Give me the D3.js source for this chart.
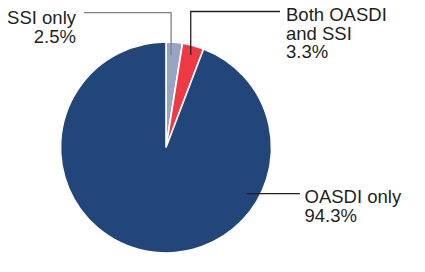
<!DOCTYPE html>
<html>
<head>
<meta charset="utf-8">
<script src="https://cdn.jsdelivr.net/npm/d3@7"></script>
<style>
  body { margin: 0; background: #fff; }
  text { font-family: "Liberation Sans", Arial, sans-serif; font-size: 18.5px; fill: #231f20; }
</style>
</head>
<body>
<div id="chart"></div>
<script>
/* Pie chart: share of beneficiaries by program */

const categories = ["SSI only", "Both OASDI and SSI", "OASDI only"];
const values = [2.5, 3.3, 94.3];
const labels = [["SSI only", "2.5%"], ["Both OASDI", "and SSI", "3.3%"], ["OASDI only", "94.3%"]];
const colors = ["#97a4c4", "#ee3a45", "#22467a"];

const width = 425,
    height = 272,
    cx = 166, cy = 147.5,
    radius = 105.5;

let svg = d3.select("#chart")
    .append("svg")
    .attr("width", width)
    .attr("height", height);

let data = categories.map((c, i) => ({name: c, value: values[i], label: labels[i], color: colors[i]}));

let pie = d3.pie()
    .value(d => d.value)
    .sort(null);

let arc = d3.arc()
    .innerRadius(0)
    .outerRadius(radius);

let arcs = pie(data);

let g = svg.append("g")
    .attr("transform", `translate(${cx},${cy})`);

g.selectAll("path")
    .data(arcs)
    .join("path")
    .attr("d", arc)
    .attr("fill", d => d.data.color)
    .attr("stroke", "#fff")
    .attr("stroke-width", 1.6)
    .attr("stroke-linejoin", "miter");

// leader anchors: angle fraction inside slice (or fixed angle), radius fraction, label placement
const leaders = [
    {t: 0.35, r: 0.88, via: "up", lineY: 12.7, endX: 84, color: "#808080", tx: 76, ty: 24, anchor: "end"},
    {t: 0.5, r: 0.91, via: "up", lineY: 11.5, endX: 280, color: "#231f20", tx: 286, ty: 20.7, anchor: "start"},
    {at: 2.09, r: 0.88, via: "flat", endX: 300, color: "#231f20", tx: 304.5, ty: 202.7, anchor: "start"}
];

const lineHeight = 18.8;

arcs.forEach((d, i) => {
    let L = leaders[i];
    let a = L.at !== undefined ? L.at : d.startAngle + (d.endAngle - d.startAngle) * L.t;
    let px = cx + Math.sin(a) * radius * L.r,
        py = cy - Math.cos(a) * radius * L.r;
    let pts = L.via === "up"
        ? [[px, py], [px, L.lineY], [L.endX, L.lineY]]
        : [[px, py], [L.endX, py]];

    svg.append("path")
        .attr("d", d3.line()(pts))
        .attr("fill", "none")
        .attr("stroke", L.color)
        .attr("stroke-width", 1.3);

    let text = svg.append("text")
        .attr("x", L.tx)
        .attr("y", L.ty)
        .attr("text-anchor", L.anchor);

    d.data.label.forEach((s, j) => {
        text.append("tspan")
            .attr("x", L.tx)
            .attr("y", L.ty + j * lineHeight)
            .text(s);
    });
});
</script>
</body>
</html>
